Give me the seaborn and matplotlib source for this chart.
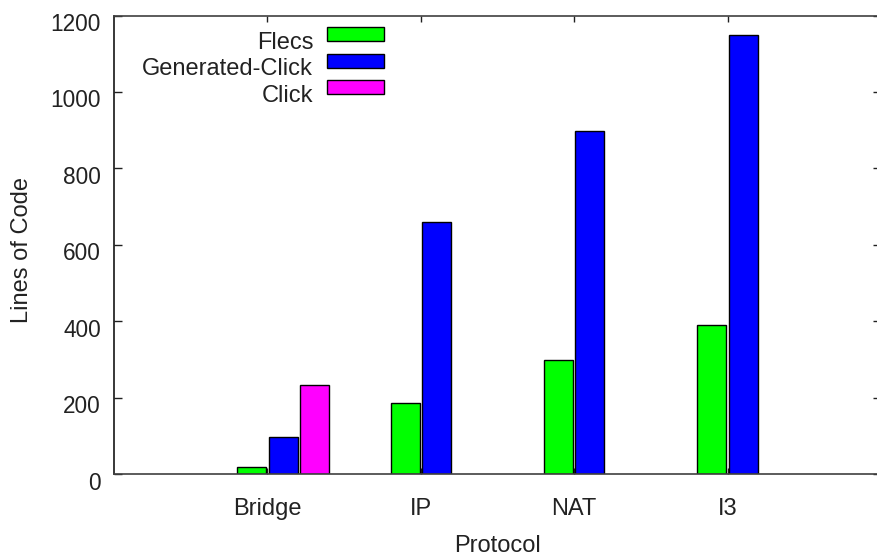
import matplotlib
matplotlib.use("Agg")
import matplotlib.pyplot as plt
import matplotlib.transforms as mtransforms
from matplotlib.patches import Patch, Rectangle
from matplotlib.legend_handler import HandlerPatch
import seaborn as sns
import pandas as pd

# Lines of code per protocol implementation
protocols = ["Bridge", "IP", "NAT", "I3"]
flecs = [19, 186, 298, 390]
generated_click = [96, 659, 899, 1149]
click = [234]            # hand-written Click only exists for Bridge
click_protocols = ["Bridge"]

series_names = ["Flecs", "Generated-Click", "Click"]
series_colors = {"Flecs": "#00ff00", "Generated-Click": "#0000ff", "Click": "#ff00ff"}
# offset of each series' bar from its protocol's category position
series_offset = {"Flecs": -0.1025, "Generated-Click": 0.1025, "Click": 0.3075}

rows = []
for name, cats, vals in [("Flecs", protocols, flecs),
                         ("Generated-Click", protocols, generated_click),
                         ("Click", click_protocols, click)]:
    for cat, v in zip(cats, vals):
        rows.append({"pos": protocols.index(cat) + series_offset[name],
                     "value": v, "series": name})
df = pd.DataFrame(rows)

sns.set_style("ticks")
plt.rcParams["font.family"] = ["Liberation Sans", "DejaVu Sans"]
FS = 17
TXT = "#222222"

W, H = 877, 559
fig = plt.figure(figsize=(W / 100, H / 100), dpi=100)
ax = fig.add_axes([114 / W, 1 - 474 / H, (881 - 114) / W, (474 - 15.5) / H])

sns.barplot(data=df, x="pos", y="value", hue="series", hue_order=series_names,
            palette=series_colors, saturation=1, native_scale=True, dodge=False,
            width=0.927, errorbar=None, edgecolor="black", linewidth=1.0,
            legend=False, ax=ax)

ax.set_xlim(-1, 4)
ax.set_ylim(0, 1200)
ax.set_xticks(range(len(protocols)))
ax.set_xticklabels(protocols)
ax.set_yticks(range(0, 1201, 200))

for s in ax.spines.values():
    s.set_color("#404040")
    s.set_linewidth(1.2)
ax.spines["left"].set_color("#151515")
ax.tick_params(direction="in", width=1, color="#202020",
               top=True, right=True, labelcolor=TXT)
ax.tick_params(axis="x", length=4.3, pad=17, labelsize=FS)
ax.tick_params(axis="y", length=5.8, pad=9.5, labelsize=16.3)

# y tick labels sit slightly below their ticks
shift = mtransforms.ScaledTranslation(0, -6.5 / 100, fig.dpi_scale_trans)
for lab in ax.get_yticklabels():
    lab.set_transform(lab.get_transform() + shift)

ax.set_xlabel("Protocol", fontsize=FS, color=TXT)
ax.set_ylabel("Lines of Code", fontsize=FS, color=TXT)
ax.xaxis.label.set_va("center")
ax.xaxis.set_label_coords(0.5, (474 - 546) / (474 - 15.5))
ax.yaxis.label.set_va("center")
ax.yaxis.set_label_coords((22 - 114) / (881 - 114), 1 - (250 - 15.5) / (474 - 15.5))


def raised_swatch(legend, orig_handle, xdescent, ydescent, width, height, fontsize):
    # swatches sit a little above the text baseline
    return Rectangle((-xdescent, -ydescent + 4.5), width, height)


handles = [Patch(facecolor=series_colors[n], edgecolor="black", linewidth=1.0, label=n)
           for n in series_names]
leg = ax.legend(handles=handles, loc="upper right",
                bbox_to_anchor=(383.8 / W, 1 - 32 / H), bbox_transform=fig.transFigure,
                frameon=False, markerfirst=False, fontsize=FS, borderpad=0,
                borderaxespad=0, handlelength=2.4, handleheight=0.525,
                handletextpad=0.59, labelspacing=0.185,
                handler_map={Patch: HandlerPatch(patch_func=raised_swatch)})
for t in leg.get_texts():
    t.set_color(TXT)

fig.savefig("out.png", dpi=100)
